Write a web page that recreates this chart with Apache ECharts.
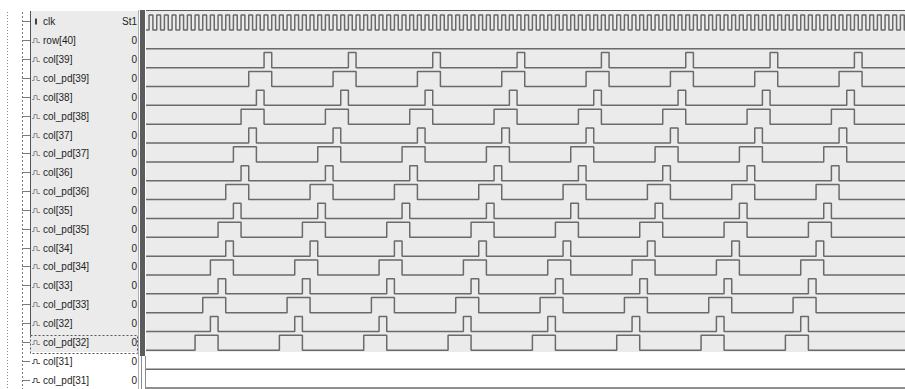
<!DOCTYPE html>
<html>
<head>
<meta charset="utf-8">
<script src="https://cdn.jsdelivr.net/npm/echarts@6/dist/echarts.min.js"></script>
<style>
  html, body { margin: 0; padding: 0; background: #ffffff; }
  #wave { width: 905px; height: 389px; }
</style>
</head>
<body>
<div id="wave"></div>
<script>
// Signal list, top to bottom, with the value shown at the cursor
const signalNames = ['clk', 'row[40]', 'col[39]', 'col_pd[39]', 'col[38]', 'col_pd[38]',
  'col[37]', 'col_pd[37]', 'col[36]', 'col_pd[36]', 'col[35]', 'col_pd[35]',
  'col[34]', 'col_pd[34]', 'col[33]', 'col_pd[33]', 'col[32]', 'col_pd[32]',
  'col[31]', 'col_pd[31]'];
const signalValues = ['St1', '0', '0', '0', '0', '0', '0', '0', '0', '0', '0', '0',
  '0', '0', '0', '0', '0', '0', '0', '0'];

// Rising edges, in clock cycles
const clkRise = [0, 1, 2, 3, 4, 5, 6, 7, 8, 9, 10, 11, 12, 13, 14, 15, 16, 17, 18, 19,
  20, 21, 22, 23, 24, 25, 26, 27, 28, 29, 30, 31, 32, 33, 34, 35, 36, 37, 38, 39,
  40, 41, 42, 43, 44, 45, 46, 47, 48, 49, 50, 51, 52, 53, 54, 55, 56, 57, 58, 59,
  60, 61, 62, 63, 64, 65, 66, 67, 68, 69, 70, 71, 72, 73, 74, 75, 76, 77, 78, 79,
  80, 81, 82, 83, 84, 85, 86, 87, 88, 89, 90, 91, 92, 93, 94, 95, 96, 97, 98];
const row40 = [];
const col39 = [15, 26, 37, 48, 59, 70, 81, 92];
const colPd39 = [13, 24, 35, 46, 57, 68, 79, 90];
const col38 = [14, 25, 36, 47, 58, 69, 80, 91];
const colPd38 = [12, 23, 34, 45, 56, 67, 78, 89];
const col37 = [13, 24, 35, 46, 57, 68, 79, 90];
const colPd37 = [11, 22, 33, 44, 55, 66, 77, 88];
const col36 = [12, 23, 34, 45, 56, 67, 78, 89];
const colPd36 = [10, 21, 32, 43, 54, 65, 76, 87];
const col35 = [11, 22, 33, 44, 55, 66, 77, 88];
const colPd35 = [9, 20, 31, 42, 53, 64, 75, 86];
const col34 = [10, 21, 32, 43, 54, 65, 76, 87];
const colPd34 = [8, 19, 30, 41, 52, 63, 74, 85];
const col33 = [9, 20, 31, 42, 53, 64, 75, 86];
const colPd33 = [7, 18, 29, 40, 51, 62, 73, 84];
const col32 = [8, 19, 30, 41, 52, 63, 74, 85];
const colPd32 = [6, 17, 28, 39, 50, 61, 72, 83];
const col31 = [];
const colPd31 = [];

// High time of each kind of signal, in clock cycles
const clkHigh = 0.5;
const colHigh = 1;
const colPdHigh = 3;

const tracks = [
  [clkRise, clkHigh], [row40, colHigh],
  [col39, colHigh], [colPd39, colPdHigh], [col38, colHigh], [colPd38, colPdHigh],
  [col37, colHigh], [colPd37, colPdHigh], [col36, colHigh], [colPd36, colPdHigh],
  [col35, colHigh], [colPd35, colPdHigh], [col34, colHigh], [colPd34, colPdHigh],
  [col33, colHigh], [colPd33, colPdHigh], [col32, colHigh], [colPd32, colPdHigh],
  [col31, colHigh], [colPd31, colPdHigh]
];

const tMin = -0.4, tMax = 98.6;
const level = 0.8;          // height of a logic 1 in row units

function wavePoints(rises, width, row) {
  const pts = [[tMin, row]];
  rises.forEach(function (r) {
    pts.push([r, row], [r, row - level], [r + width, row - level], [r + width, row]);
  });
  pts.push([tMax, row]);
  return pts;
}

const series = tracks.map(function (tr, i) {
  return {
    type: 'line',
    name: signalNames[i],
    data: wavePoints(tr[0], tr[1], i),
    showSymbol: false,
    symbol: 'none',
    silent: true,
    animation: false,
    lineStyle: { color: '#6a6a6a', width: 1.5 },
    z: 5
  };
});

const chart = echarts.init(document.getElementById('wave'), null, { renderer: 'svg' });
chart.setOption({
  animation: false,
  grid: { left: 146, right: 0, top: 10, bottom: 0 },
  xAxis: { type: 'value', min: tMin, max: tMax, show: false },
  yAxis: { type: 'value', inverse: true, min: -1.06, max: 19.05, show: false },
  series: series
});

// Side panel: tree, icons, names and values, laid out on the same row scale
const font = '10px "Liberation Sans", Arial, sans-serif';
const g = [];
function rowY(v) { return chart.convertToPixel({ xAxisIndex: 0, yAxisIndex: 0 }, [0, v])[1]; }
const grayBottom = 352;

g.push({ type: 'rect', z: -10, shape: { x: 146, y: 10, width: 759, height: grayBottom - 10 }, style: { fill: '#ebebeb' } });
g.push({ type: 'rect', z: -10, shape: { x: 30, y: 11, width: 109, height: grayBottom - 11 }, style: { fill: '#ebebeb' } });
g.push({ type: 'line', z: 20, shape: { x1: 146, y1: 10.5, x2: 905, y2: 10.5 }, style: { stroke: '#5a5a5a', lineWidth: 1 } });
g.push({ type: 'line', z: 20, shape: { x1: 7.5, y1: 12, x2: 7.5, y2: 389 }, style: { stroke: '#8a8a8a', lineWidth: 1, lineDash: [1, 2] } });
g.push({ type: 'line', z: 20, shape: { x1: 22.5, y1: 12, x2: 22.5, y2: 389 }, style: { stroke: '#7a7a7a', lineWidth: 1, lineDash: [2, 2] } });
g.push({ type: 'line', z: 20, shape: { x1: 30.5, y1: 11, x2: 30.5, y2: 335 }, style: { stroke: '#555555', lineWidth: 1 } });
g.push({ type: 'line', z: 20, shape: { x1: 138.5, y1: 10, x2: 138.5, y2: 389 }, style: { stroke: '#b0b0b0', lineWidth: 1 } });
g.push({ type: 'rect', z: 20, shape: { x: 140, y: 10, width: 5, height: 346 }, style: { fill: '#5c5c5c' } });
g.push({ type: 'line', z: 20, shape: { x1: 141.5, y1: 356, x2: 141.5, y2: 389 }, style: { stroke: '#8c8c8c', lineWidth: 1 } });
g.push({ type: 'line', z: 20, shape: { x1: 145.5, y1: 356, x2: 145.5, y2: 389 }, style: { stroke: '#8c8c8c', lineWidth: 1 } });
g.push({ type: 'rect', z: 20, shape: { x: 30.5, y: 335.5, width: 107, height: 18 }, style: { fill: 'none', stroke: '#555555', lineWidth: 1, lineDash: [2, 2] } });

signalNames.forEach(function (name, i) {
  const cy = Math.round(rowY(i - 0.45)) + 0.5;
  g.push({ type: 'line', z: 20, shape: { x1: 22, y1: cy, x2: 30, y2: cy }, style: { stroke: '#7a7a7a', lineWidth: 1 } });
  if (i === 0) {
    g.push({ type: 'rect', z: 20, shape: { x: 35, y: cy - 3, width: 2, height: 6 }, style: { fill: '#444444' } });
  } else {
    g.push({ type: 'polyline', z: 20, shape: { points: [[32, cy + 2], [34, cy + 2], [34, cy - 2], [37, cy - 2], [37, cy + 2], [40, cy + 2]] },
      style: { fill: 'none', stroke: i >= 18 ? '#555555' : '#8c8c8c', lineWidth: 1 } });
  }
  g.push({ type: 'text', z: 20, x: 43, y: cy, style: { text: name, font: font, fill: '#1e1e1e', textAlign: 'left', textVerticalAlign: 'middle' } });
  g.push({ type: 'text', z: 20, x: 137, y: cy, style: { text: signalValues[i], font: font, fill: '#1e1e1e', textAlign: 'right', textVerticalAlign: 'middle' } });
});

chart.setOption({ graphic: { elements: g } });
</script>
</body>
</html>
